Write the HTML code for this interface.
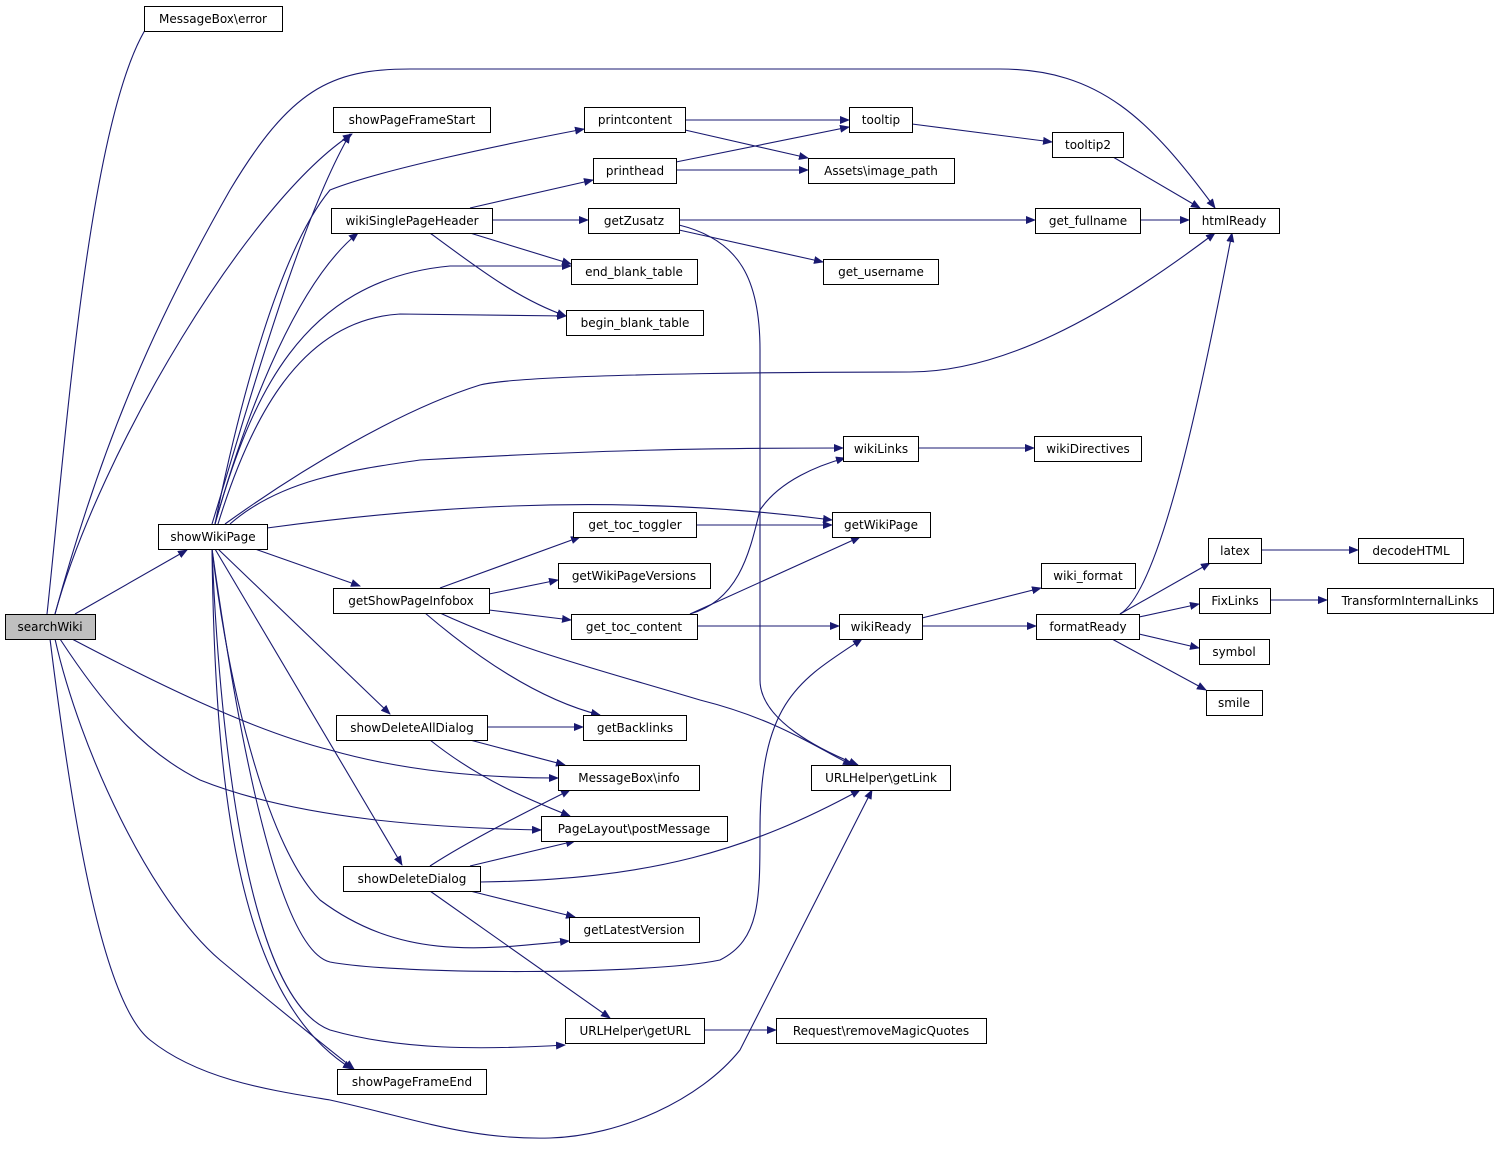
<!DOCTYPE html>
<html><head><meta charset="utf-8"><style>
body{margin:0;background:#fff;}
svg text{font-family:"DejaVu Sans","Liberation Sans",sans-serif;font-size:12px;fill:#000;}
</style></head><body>
<svg width="1499" height="1144" viewBox="0 0 1499 1144" xmlns="http://www.w3.org/2000/svg">
<defs><marker id="a" markerWidth="10" markerHeight="8" refX="9" refY="4" orient="auto" markerUnits="userSpaceOnUse"><path d="M0,0 L10,4 L0,8 z" fill="#191970"/></marker></defs>
<g fill="none" stroke="#191970" stroke-width="1.1" marker-end="url(#a)">
<path d="M47,614 C65,450 90,90 155,16"/>
<path d="M55,614 C100,450 150,330 230,190 C290,90 330,69 410,69 L1000,69 C1100,69 1150,120 1215,208"/>
<path d="M55,614 C100,450 250,200 352,134"/>
<path d="M75,614 L187,550"/>
<path d="M72,639 C150,680 250,730 330,750 C400,770 480,778 558,778"/>
<path d="M60,639 C100,700 140,750 200,780 C300,820 440,828 541,830"/>
<path d="M55,639 C80,750 150,900 220,960 C280,1010 330,1050 354,1069"/>
<path d="M50,639 C70,800 100,1000 150,1040 C200,1080 270,1090 330,1100 C420,1120 470,1140 550,1138 C620,1136 700,1100 740,1050 L872,790"/>
<path d="M212,524 C250,400 300,220 350,134"/>
<path d="M215,524 C250,400 300,280 358,233"/>
<path d="M215,524 C240,400 280,250 330,190 C380,170 500,145 584,129"/>
<path d="M215,524 C250,400 300,280 450,266 L571,266"/>
<path d="M218,524 C250,420 300,320 400,314 L566,316"/>
<path d="M225,524 C300,470 400,410 480,385 C530,372 880,372 910,372 C1000,372 1100,320 1215,233"/>
<path d="M230,524 C280,480 350,470 420,460 C600,450 700,448 843,448"/>
<path d="M267,528 C400,510 600,490 832,520"/>
<path d="M255,549 L360,586"/>
<path d="M218,549 L390,714"/>
<path d="M215,549 L402,865"/>
<path d="M212,549 C230,700 270,850 320,900 C400,960 480,950 569,941"/>
<path d="M212,549 C240,750 280,950 330,962 C400,975 650,975 720,960 C760,940 760,900 760,830 C760,700 800,680 862,639"/>
<path d="M212,549 C220,750 250,1000 330,1030 C400,1050 480,1050 565,1045"/>
<path d="M212,549 C215,800 240,1000 352,1069"/>
<path d="M470,208 L593,180"/>
<path d="M492,220 L588,220"/>
<path d="M470,233 L571,264"/>
<path d="M430,233 C480,270 520,300 566,316"/>
<path d="M685,120 L849,120"/>
<path d="M685,130 L808,158"/>
<path d="M676,162 L849,127"/>
<path d="M676,170 L808,170"/>
<path d="M912,124 L1052,142"/>
<path d="M1113,157 L1200,208"/>
<path d="M679,220 L1035,220"/>
<path d="M679,230 L823,262"/>
<path d="M679,225 C740,240 760,280 760,350 L760,680 C760,720 820,750 858,765"/>
<path d="M1140,220 L1189,220"/>
<path d="M918,448 L1034,448"/>
<path d="M696,525 L832,525"/>
<path d="M440,588 L580,537"/>
<path d="M489,594 L558,580"/>
<path d="M489,610 L571,620"/>
<path d="M425,613 C480,660 540,700 600,715"/>
<path d="M440,613 C520,650 600,670 700,700 C780,720 820,750 852,765"/>
<path d="M690,614 C740,600 750,550 760,510 C780,480 820,465 845,458"/>
<path d="M690,614 L860,537"/>
<path d="M697,626 L839,626"/>
<path d="M922,618 L1041,588"/>
<path d="M922,626 L1036,626"/>
<path d="M1120,614 C1160,590 1200,400 1232,233"/>
<path d="M1120,614 L1210,563"/>
<path d="M1139,617 L1199,604"/>
<path d="M1139,634 L1199,648"/>
<path d="M1112,639 L1206,690"/>
<path d="M1261,550 L1358,550"/>
<path d="M1270,600 L1327,600"/>
<path d="M487,727 L583,727"/>
<path d="M470,740 L565,765"/>
<path d="M430,740 C480,780 530,800 570,816"/>
<path d="M430,866 C470,840 530,810 570,790"/>
<path d="M470,866 L575,841"/>
<path d="M480,882 C650,880 750,850 860,790"/>
<path d="M470,891 L575,917"/>
<path d="M430,891 L610,1018"/>
<path d="M704,1030 L776,1030"/>
</g>
<g stroke="#000" stroke-width="1" fill="#fff">
<rect x="5.5" y="614.5" width="90" height="25" fill="#bfbfbf"/>
<rect x="144.5" y="6.5" width="138" height="25"/>
<rect x="333.5" y="107.5" width="157" height="25"/>
<rect x="584.5" y="107.5" width="101" height="25"/>
<rect x="849.5" y="107.5" width="63" height="25"/>
<rect x="1052.5" y="132.5" width="71" height="25"/>
<rect x="593.5" y="158.5" width="83" height="25"/>
<rect x="808.5" y="158.5" width="146" height="25"/>
<rect x="331.5" y="208.5" width="161" height="25"/>
<rect x="588.5" y="208.5" width="91" height="25"/>
<rect x="1035.5" y="208.5" width="105" height="25"/>
<rect x="1189.5" y="208.5" width="90" height="25"/>
<rect x="571.5" y="259.5" width="126" height="25"/>
<rect x="823.5" y="259.5" width="115" height="25"/>
<rect x="566.5" y="310.5" width="137" height="25"/>
<rect x="843.5" y="436.5" width="75" height="25"/>
<rect x="1034.5" y="436.5" width="107" height="25"/>
<rect x="158.5" y="524.5" width="109" height="25"/>
<rect x="573.5" y="512.5" width="123" height="25"/>
<rect x="832.5" y="512.5" width="98" height="25"/>
<rect x="1208.5" y="538.5" width="53" height="25"/>
<rect x="1358.5" y="538.5" width="105" height="25"/>
<rect x="558.5" y="563.5" width="152" height="25"/>
<rect x="1041.5" y="563.5" width="94" height="25"/>
<rect x="333.5" y="588.5" width="156" height="25"/>
<rect x="1199.5" y="588.5" width="71" height="25"/>
<rect x="1327.5" y="588.5" width="166" height="25"/>
<rect x="571.5" y="614.5" width="126" height="25"/>
<rect x="839.5" y="614.5" width="83" height="25"/>
<rect x="1036.5" y="614.5" width="103" height="25"/>
<rect x="1199.5" y="639.5" width="70" height="25"/>
<rect x="1206.5" y="690.5" width="56" height="25"/>
<rect x="336.5" y="715.5" width="151" height="25"/>
<rect x="583.5" y="715.5" width="103" height="25"/>
<rect x="558.5" y="765.5" width="141" height="25"/>
<rect x="811.5" y="765.5" width="139" height="25"/>
<rect x="541.5" y="816.5" width="186" height="25"/>
<rect x="343.5" y="866.5" width="137" height="25"/>
<rect x="569.5" y="917.5" width="130" height="25"/>
<rect x="565.5" y="1018.5" width="139" height="25"/>
<rect x="776.5" y="1018.5" width="210" height="25"/>
<rect x="337.5" y="1069.5" width="149" height="25"/>
</g>
<g text-anchor="middle">
<text x="50" y="631">searchWiki</text>
<text x="213" y="23">MessageBox\error</text>
<text x="412" y="124">showPageFrameStart</text>
<text x="635" y="124">printcontent</text>
<text x="881" y="124">tooltip</text>
<text x="1088" y="149">tooltip2</text>
<text x="635" y="175">printhead</text>
<text x="881" y="175">Assets\image_path</text>
<text x="412" y="225">wikiSinglePageHeader</text>
<text x="634" y="225">getZusatz</text>
<text x="1088" y="225">get_fullname</text>
<text x="1234" y="225">htmlReady</text>
<text x="634" y="276">end_blank_table</text>
<text x="881" y="276">get_username</text>
<text x="635" y="327">begin_blank_table</text>
<text x="881" y="453">wikiLinks</text>
<text x="1088" y="453">wikiDirectives</text>
<text x="213" y="541">showWikiPage</text>
<text x="635" y="529">get_toc_toggler</text>
<text x="881" y="529">getWikiPage</text>
<text x="1235" y="555">latex</text>
<text x="1411" y="555">decodeHTML</text>
<text x="634" y="580">getWikiPageVersions</text>
<text x="1088" y="580">wiki_format</text>
<text x="411" y="605">getShowPageInfobox</text>
<text x="1235" y="605">FixLinks</text>
<text x="1410" y="605">TransformInternalLinks</text>
<text x="634" y="631">get_toc_content</text>
<text x="881" y="631">wikiReady</text>
<text x="1088" y="631">formatReady</text>
<text x="1234" y="656">symbol</text>
<text x="1234" y="707">smile</text>
<text x="412" y="732">showDeleteAllDialog</text>
<text x="635" y="732">getBacklinks</text>
<text x="629" y="782">MessageBox\info</text>
<text x="881" y="782">URLHelper\getLink</text>
<text x="634" y="833">PageLayout\postMessage</text>
<text x="412" y="883">showDeleteDialog</text>
<text x="634" y="934">getLatestVersion</text>
<text x="635" y="1035">URLHelper\getURL</text>
<text x="881" y="1035">Request\removeMagicQuotes</text>
<text x="412" y="1086">showPageFrameEnd</text>
</g>
</svg>
</body></html>
